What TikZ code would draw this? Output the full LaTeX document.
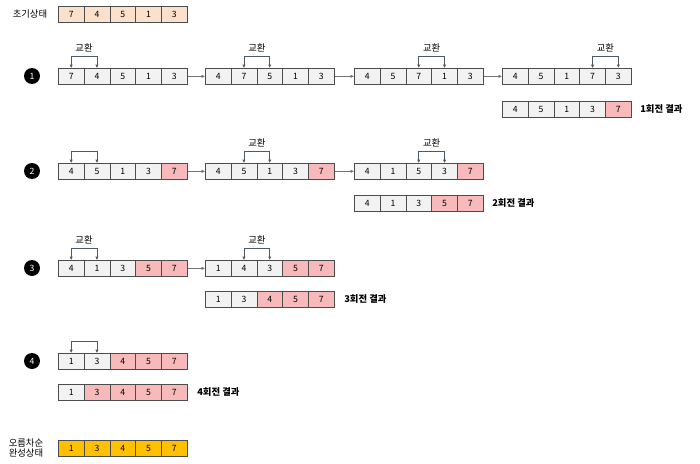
\documentclass[tikz,border=0pt]{standalone}
\usepackage{fontspec}
\setmainfont{Noto Sans CJK KR}
\usetikzlibrary{arrows.meta}
\definecolor{cg}{HTML}{F2F2F2}
\definecolor{cp}{HTML}{FBE0CC}
\definecolor{cr}{HTML}{F7B9B9}
\definecolor{cy}{HTML}{FFC000}
\definecolor{br}{HTML}{4A5A66}
\tikzset{
 cell/.style={draw=black!70,line width=0.4pt,minimum width=19.35pt,minimum height=12pt,inner sep=0pt,font=\fontsize{6.5}{7}\selectfont,anchor=north west},
 lbl/.style={font=\fontsize{7}{8}\selectfont,inner sep=0pt},
 blbl/.style={font=\fontsize{7}{8}\selectfont\bfseries,inner sep=0pt,anchor=west},
 num/.style={circle,fill=black,text=white,minimum size=12pt,inner sep=0pt,font=\fontsize{6.5}{7}\selectfont},
 conn/.style={draw=black!55,line width=0.4pt,-{Latex[length=2.5pt,width=2.5pt]}},
 swp/.style={draw=br,line width=0.5pt,{Latex[length=2.5pt,width=2.5pt]}-{Latex[length=2.5pt,width=2.5pt]}}
}
\newcommand{\arr}[4]{% name, x, y, list val/col
 \foreach \v/\c [count=\i from 0] in {#4}{
  \node[cell,fill=\c] (#1-\i) at ({#2+\i*25.8},#3) {\v};
 }}
\newcommand{\swap}[4]{% name, i, j, label
 \coordinate (#1-a) at ([yshift=9pt]#1-#2.north);
 \coordinate (#1-b) at ([yshift=9pt]#1-#3.north);
 \draw[swp] (#1-#2.north) -- (#1-a) -- (#1-b) -- (#1-#3.north);
 \node[lbl,above=3pt] (#1-l) at ($(#1-a)!0.5!(#1-b)$) {#4};}
\usetikzlibrary{calc,positioning}
\begin{document}
\begin{tikzpicture}[x=0.75pt,y=-0.75pt]
\useasboundingbox (0,0) rectangle (700,464);
\node[lbl] (t0) at (30,14) {초기상태};
\arr{I}{58}{6}{7/cp,4/cp,5/cp,1/cp,3/cp}
% row 1
\node[num] (n1) at (32,76) {1};
\arr{A}{58}{68}{7/cg,4/cg,5/cg,1/cg,3/cg}
\arr{B}{205}{68}{4/cg,7/cg,5/cg,1/cg,3/cg}
\arr{C}{354}{68}{4/cg,5/cg,7/cg,1/cg,3/cg}
\arr{D}{502}{68}{4/cg,5/cg,1/cg,7/cg,3/cg}
\swap{A}{0}{1}{교환}\swap{B}{1}{2}{교환}\swap{C}{2}{3}{교환}\swap{D}{3}{4}{교환}
\draw[conn] (A-4.east) -- (B-0.west);
\draw[conn] (B-4.east) -- (C-0.west);
\draw[conn] (C-4.east) -- (D-0.west);
\arr{R1}{502}{101}{4/cg,5/cg,1/cg,3/cg,7/cr}
\node[blbl] (L1) at (640,109) {1회전 결과};
% row 2
\node[num] (n2) at (32,171) {2};
\arr{E}{58}{163}{4/cg,5/cg,1/cg,3/cg,7/cr}
\arr{F}{205}{163}{4/cg,5/cg,1/cg,3/cg,7/cr}
\arr{G}{354}{163}{4/cg,1/cg,5/cg,3/cg,7/cr}
\swap{E}{0}{1}{}\swap{F}{1}{2}{교환}\swap{G}{2}{3}{교환}
\draw[conn] (E-4.east) -- (F-0.west);
\draw[conn] (F-4.east) -- (G-0.west);
\arr{R2}{354}{195}{4/cg,1/cg,3/cg,5/cr,7/cr}
\node[blbl] (L2) at (492,203) {2회전 결과};
% row 3
\node[num] (n3) at (32,268) {3};
\arr{H}{58}{260}{4/cg,1/cg,3/cg,5/cr,7/cr}
\arr{J}{205}{260}{1/cg,4/cg,3/cg,5/cr,7/cr}
\swap{H}{0}{1}{교환}\swap{J}{1}{2}{교환}
\draw[conn] (H-4.east) -- (J-0.west);
\arr{R3}{205}{291}{1/cg,3/cg,4/cr,5/cr,7/cr}
\node[blbl] (L3) at (344,299) {3회전 결과};
% row 4
\node[num] (n4) at (32,361) {4};
\arr{K}{58}{353}{1/cg,3/cg,4/cr,5/cr,7/cr}
\swap{K}{0}{1}{}
\arr{R4}{58}{384}{1/cg,3/cr,4/cr,5/cr,7/cr}
\node[blbl] (L4) at (197,392) {4회전 결과};
% final
\node[lbl,align=center] (tf) at (26,448) {오름차순\\완성상태};
\arr{Z}{58}{440}{1/cy,3/cy,4/cy,5/cy,7/cy}
\end{tikzpicture}
\end{document}
